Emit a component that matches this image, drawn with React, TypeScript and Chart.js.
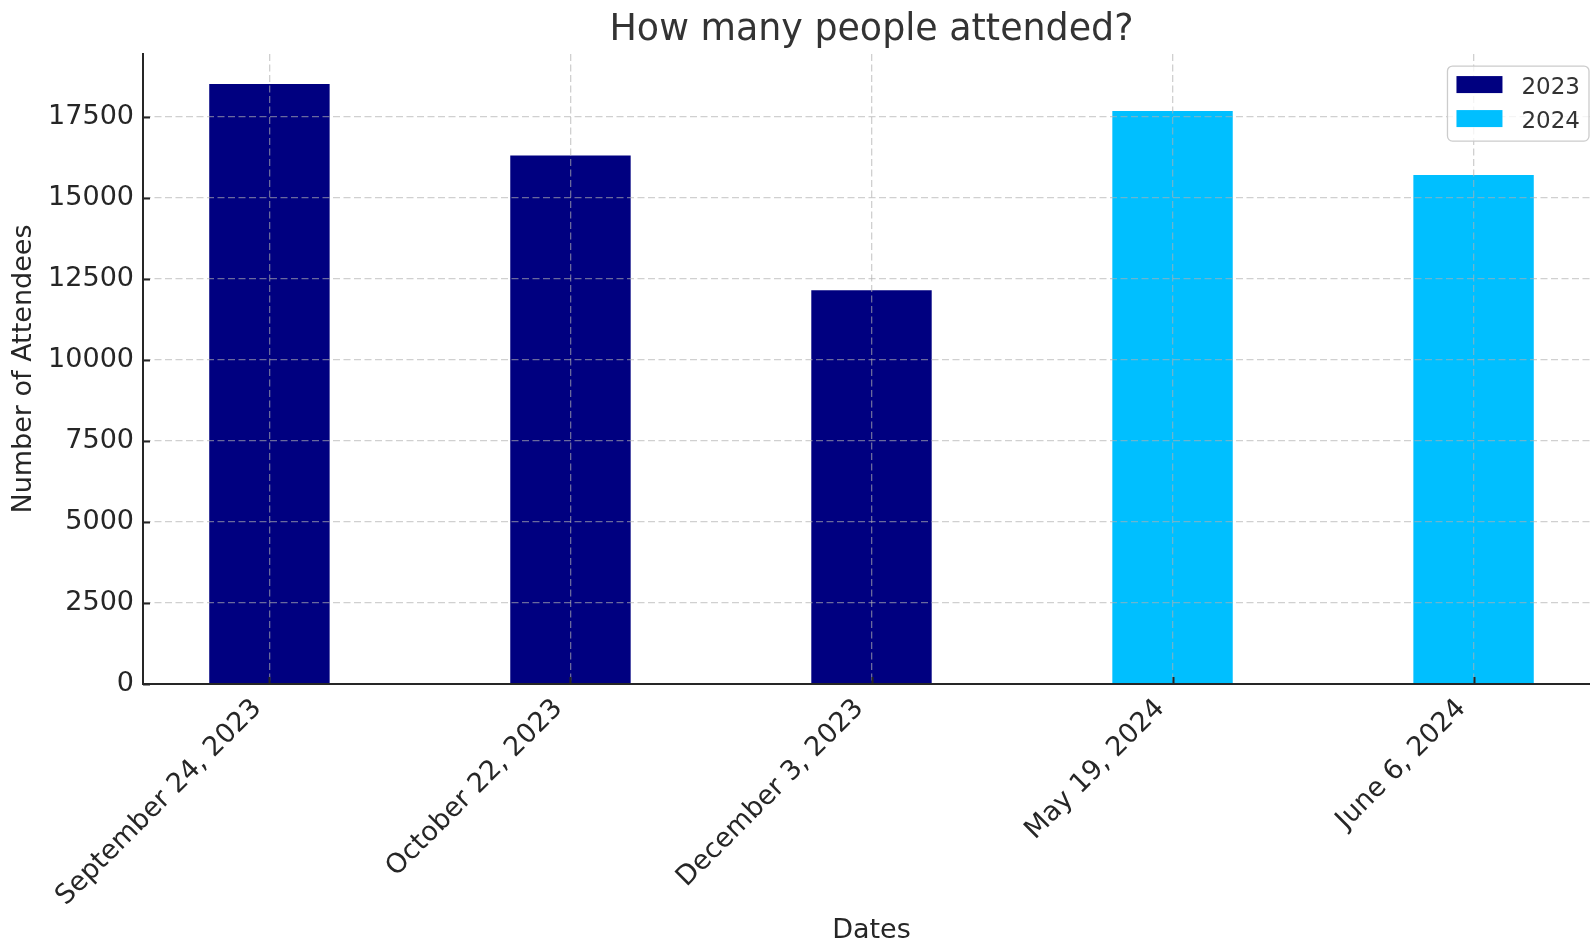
import { useEffect, useRef } from 'react';
import { Chart, registerables } from 'chart.js';

Chart.register(...registerables);

const dateLabels = ['September 24, 2023', 'October 22, 2023', 'December 3, 2023', 'May 19, 2024', 'June 6, 2024'];
const positions2023 = [0, 1, 2];
const attendees2023 = [18500, 16300, 12140];
const positions2024 = [3, 4];
const attendees2024 = [17670, 15700];
const seriesNames = ['2023', '2024'];
const seriesColors = ['#000080', '#00BFFF'];
const yTickValues = [0, 2500, 5000, 7500, 10000, 12500, 15000, 17500];
const chartTitle = 'How many people attended?';
const xTitle = 'Dates';
const yTitle = 'Number of Attendees';

const FONT = '"DejaVu Sans", sans-serif';
const TEXT = '#262626';
const GRID = 'rgba(176,176,176,0.6)';

const inwardTicks = {
  id: 'inwardTicks',
  afterDraw(chart: any) {
    const { ctx, chartArea, scales } = chart;
    const xs = scales.x;
    const ys = scales.y;
    ctx.save();
    ctx.strokeStyle = TEXT;
    ctx.lineWidth = 2;
    ctx.beginPath();
    ys.ticks.forEach((_: any, i: number) => {
      const p = Math.round(ys.getPixelForTick(i)) + 0.5;
      ctx.moveTo(chartArea.left, p);
      ctx.lineTo(chartArea.left + 7, p);
    });
    xs.ticks.forEach((_: any, i: number) => {
      const p = Math.round(xs.getPixelForTick(i)) + 0.5;
      ctx.moveTo(p, chartArea.bottom);
      ctx.lineTo(p, chartArea.bottom - 7);
    });
    ctx.stroke();
    ctx.restore();
  },
};

const cornerLegend = {
  id: 'cornerLegend',
  afterDraw(chart: any) {
    const { ctx, chartArea } = chart;
    const items = chart.data.datasets.map((d: any) => ({ text: d.label, color: d.backgroundColor }));
    ctx.save();
    ctx.font = `23px ${FONT}`;
    const textW = Math.max(...items.map((it: any) => ctx.measureText(it.text).width));
    const padL = 9;
    const patchW = 46;
    const patchH = 17;
    const gap = 19;
    const padR = 9;
    const padT = 10;
    const padB = 14;
    const rowH = 34;
    const w = padL + patchW + gap + textW + padR;
    const h = padT + rowH * (items.length - 1) + patchH + padB;
    const right = chartArea.right - 11;
    const left = right - w;
    const top = chartArea.top + 12;
    ctx.beginPath();
    if (ctx.roundRect) ctx.roundRect(left, top, w, h, 5);
    else ctx.rect(left, top, w, h);
    ctx.fillStyle = 'rgba(255,255,255,0.8)';
    ctx.fill();
    ctx.strokeStyle = '#cccccc';
    ctx.lineWidth = 1.3;
    ctx.stroke();
    items.forEach((it: any, i: number) => {
      const py = top + padT + i * rowH;
      ctx.fillStyle = it.color;
      ctx.fillRect(left + padL, py, patchW, patchH);
      ctx.fillStyle = '#333333';
      ctx.textAlign = 'left';
      ctx.textBaseline = 'alphabetic';
      ctx.fillText(it.text, left + padL + patchW + gap, py + 18);
    });
    ctx.restore();
  },
};

export default function App() {
  const ref = useRef<HTMLCanvasElement>(null);

  useEffect(() => {
    if (!ref.current) return;
    Chart.defaults.font.family = FONT;
    const chart = new Chart(ref.current, {
      type: 'bar',
      data: {
        datasets: [
          {
            label: seriesNames[0],
            data: positions2023.map((x, i) => ({ x, y: attendees2023[i] })),
            backgroundColor: seriesColors[0],
          },
          {
            label: seriesNames[1],
            data: positions2024.map((x, i) => ({ x, y: attendees2024[i] })),
            backgroundColor: seriesColors[1],
          },
        ],
      },
      options: {
        responsive: false,
        maintainAspectRatio: false,
        animation: false,
        events: [],
        layout: { padding: 0 },
        datasets: {
          bar: { grouped: false, barPercentage: 0.4, categoryPercentage: 1 },
        },
        plugins: {
          legend: { display: false },
          tooltip: { enabled: false },
          title: {
            display: true,
            text: chartTitle,
            fullSize: false,
            color: '#333333',
            font: { family: FONT, size: 36.4, weight: 'normal', lineHeight: 1.2 },
            padding: { top: 8.4, bottom: 2 },
          },
        },
        scales: {
          x: {
            type: 'linear',
            position: 'bottom',
            min: -0.42,
            max: 4.42,
            offset: false,
            afterBuildTicks: (s: any) => {
              s.ticks = dateLabels.map((_, i) => ({ value: i }));
            },
            afterFit: (s: any) => {
              s.height = 263;
            },
            ticks: {
              z: 2,
              autoSkip: false,
              minRotation: 45,
              maxRotation: 45,
              padding: 9,
              labelOffset: -12,
              color: TEXT,
              font: { family: FONT, size: 27 },
              callback: (v: any) => dateLabels[v] ?? '',
            },
            grid: { z: 1, display: true, drawTicks: false, offset: false, color: GRID, lineWidth: 1.3 },
            border: { z: 2, display: true, color: TEXT, width: 2, dash: [7, 3.5] },
            title: {
              display: true,
              text: xTitle,
              color: TEXT,
              font: { family: FONT, size: 27 },
              padding: { top: 0, bottom: 0 },
            },
          },
          y: {
            type: 'linear',
            position: 'left',
            min: 0,
            max: 19425,
            afterBuildTicks: (s: any) => {
              s.ticks = yTickValues.map((v) => ({ value: v }));
            },
            afterFit: (s: any) => {
              s.width = 143;
            },
            ticks: {
              z: 2,
              padding: 9,
              color: TEXT,
              font: { family: FONT, size: 27 },
              callback: (v: any) => String(v),
            },
            grid: { z: 1, display: true, drawTicks: false, color: GRID, lineWidth: 1.3 },
            border: { z: 2, display: true, color: TEXT, width: 2, dash: [7, 3.5] },
            title: {
              display: true,
              text: yTitle,
              color: TEXT,
              font: { family: FONT, size: 27 },
              padding: { top: 8, bottom: 0 },
            },
          },
        },
      } as any,
      plugins: [inwardTicks, cornerLegend],
    });
    return () => chart.destroy();
  }, []);

  return (
    <div
      style={{
        position: 'absolute',
        left: 0,
        top: 0,
        width: 1590,
        height: 947,
        overflow: 'hidden',
        background: '#ffffff',
      }}
    >
      <canvas ref={ref} width={1600} height={947} style={{ display: 'block', width: 1600, height: 947 }} />
    </div>
  );
}
